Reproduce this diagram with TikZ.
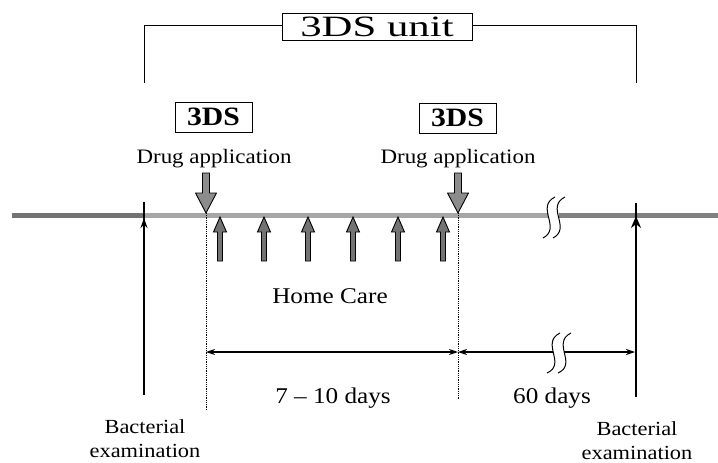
\documentclass[tikz,border=0pt]{standalone}
\usepackage{fontspec}
\setmainfont{Liberation Serif}[FakeStretch=1.12]
\newfontfamily\titlefont{Liberation Serif}[FakeStretch=1.45]
\usetikzlibrary{arrows.meta}
\begin{document}
\begin{tikzpicture}[x=1pt,y=-1pt,
  txt/.style={inner sep=0pt, font=\fontsize{20.5}{24}\selectfont},
  bigtxt/.style={inner sep=0pt, font=\fontsize{22.5}{26}\selectfont},
  bacttxt/.style={inner sep=0pt, align=center, font=\fontsize{20}{24.5}\selectfont},
  titlebox/.style={draw, line width=0.9pt, inner sep=0pt, minimum width=190pt, minimum height=27pt, font=\titlefont\fontsize{29.5}{30}\selectfont},
  dsbox/.style={draw, line width=1pt, inner sep=0pt, minimum width=77pt, minimum height=30pt, font=\bfseries\fontsize{26.5}{28}\selectfont},
  bracket/.style={line width=0.9pt},
  band/.style={line width=5pt},
  dotline/.style={line width=0.8pt, densely dotted},
  dimline/.style={line width=1.2pt},
  dimtip/.style={-{Stealth[length=9pt,width=6pt]}},
  breakcurve/.style={line width=1pt},
  downarr/.pic={\draw[fill=black!45, line width=0.9pt] (-3.5,-40) -- (3.5,-40) -- (3.5,-20) -- (10.5,-20) -- (0,0) -- (-10.5,-20) -- (-3.5,-20) -- cycle;},
  uparr/.pic={\draw[fill=black!55, line width=0.9pt] (-2.5,44) -- (2.5,44) -- (2.5,15) -- (6.5,15) -- (0,0) -- (-6.5,15) -- (-2.5,15) -- cycle;}
]
\useasboundingbox (0,0) rectangle (718,463);
\fill[white] (0,0) rectangle (718,463);

% title and bracket
\node[titlebox] (title) at (377,27) {3DS unit};
\coordinate (brL) at (144,83);
\coordinate (brR) at (636,83);
\draw[bracket] (brL) |- ([yshift=2pt]title.west);
\draw[bracket] ([yshift=2pt]title.east) -| (brR);

% 3DS boxes and labels
\node[dsbox] (ds1) at (213.5,117) {3DS};
\node[dsbox] (ds2) at (457.5,118) {3DS};
\node[txt, anchor=base] (drug1) at (214,163) {Drug application};
\node[txt, anchor=base] (drug2) at (458,163) {Drug application};

% timeline band
\coordinate (L0) at (12,215);
\coordinate (Lb) at (144,215);
\coordinate (Bk1) at (548,215);
\coordinate (Bk2) at (559,215);
\coordinate (Lend) at (718,215);
\draw[band, draw=black!55] (L0) -- (Lb);
\draw[band, draw=black!35] (Lb) -- (Bk1);
\draw[band, draw=black!50] (Bk2) -- (Lend);
\draw[breakcurve] (555,197) .. controls (535,207) and (562,228) .. (543,238);
\draw[breakcurve] (565,197) .. controls (545,207) and (572,228) .. (553,238);

% dotted verticals
\coordinate (t1) at (206,213);
\coordinate (t2) at (458,213);
\coordinate (d1) at (206,410);
\coordinate (d2) at (458,400);
\draw[dotline] (t1) -- (d1);
\draw[dotline] (t2) -- (d2);

% drug application arrows
\pic at (t1) {downarr};
\pic at (t2) {downarr};

% home care arrows
\foreach \x in {220,264,308,353,398,443} {
  \pic at (\x,217) {uparr};
}
\node[bigtxt, anchor=base] (home) at (330,303) {Home Care};

% bacterial examination lines
\coordinate (b1top) at (144,202);
\coordinate (b1bot) at (144,395);
\coordinate (b1tip) at (144,218);
\coordinate (b2top) at (636,203);
\coordinate (b2bot) at (636,397);
\coordinate (b2tip) at (636,216);
\draw[line width=1.3pt] (b1top) -- (b1bot);
\draw[line width=1.3pt, -{Stealth[length=10pt,width=7pt]}] (144,240) -- (b1tip);
\draw[line width=2.6pt] (b2top) -- (b2bot);
\draw[line width=2.6pt, -{Stealth[length=12pt,width=10pt]}] (636,240) -- (b2tip);
\node[bacttxt, anchor=north] (bact1) at (145,419) {Bacterial\\examination};
\node[bacttxt, anchor=north] (bact2) at (637,421) {Bacterial\\examination};

% dimension lines
\coordinate (m1) at (206,352);
\coordinate (m2) at (458,352);
\coordinate (m3) at (635,352);
\coordinate (mb1) at (553,352);
\coordinate (mb2) at (564,352);
\draw[dimline, {Stealth[length=9pt,width=6pt]}-{Stealth[length=9pt,width=6pt]}] (m1) -- (m2);
\draw[dimline, {Stealth[length=9pt,width=6pt]}-] (m2) -- (mb1);
\draw[dimline, dimtip] (mb2) -- (m3);
\draw[breakcurve] (560,333) .. controls (540,343) and (567,364) .. (547,373);
\draw[breakcurve] (571,333) .. controls (551,343) and (578,364) .. (558,373);
\node[bigtxt, anchor=base] (days1) at (333,403) {7 – 10 days};
\node[bigtxt, anchor=base] (days2) at (552,403) {60 days};
\end{tikzpicture}
\end{document}
